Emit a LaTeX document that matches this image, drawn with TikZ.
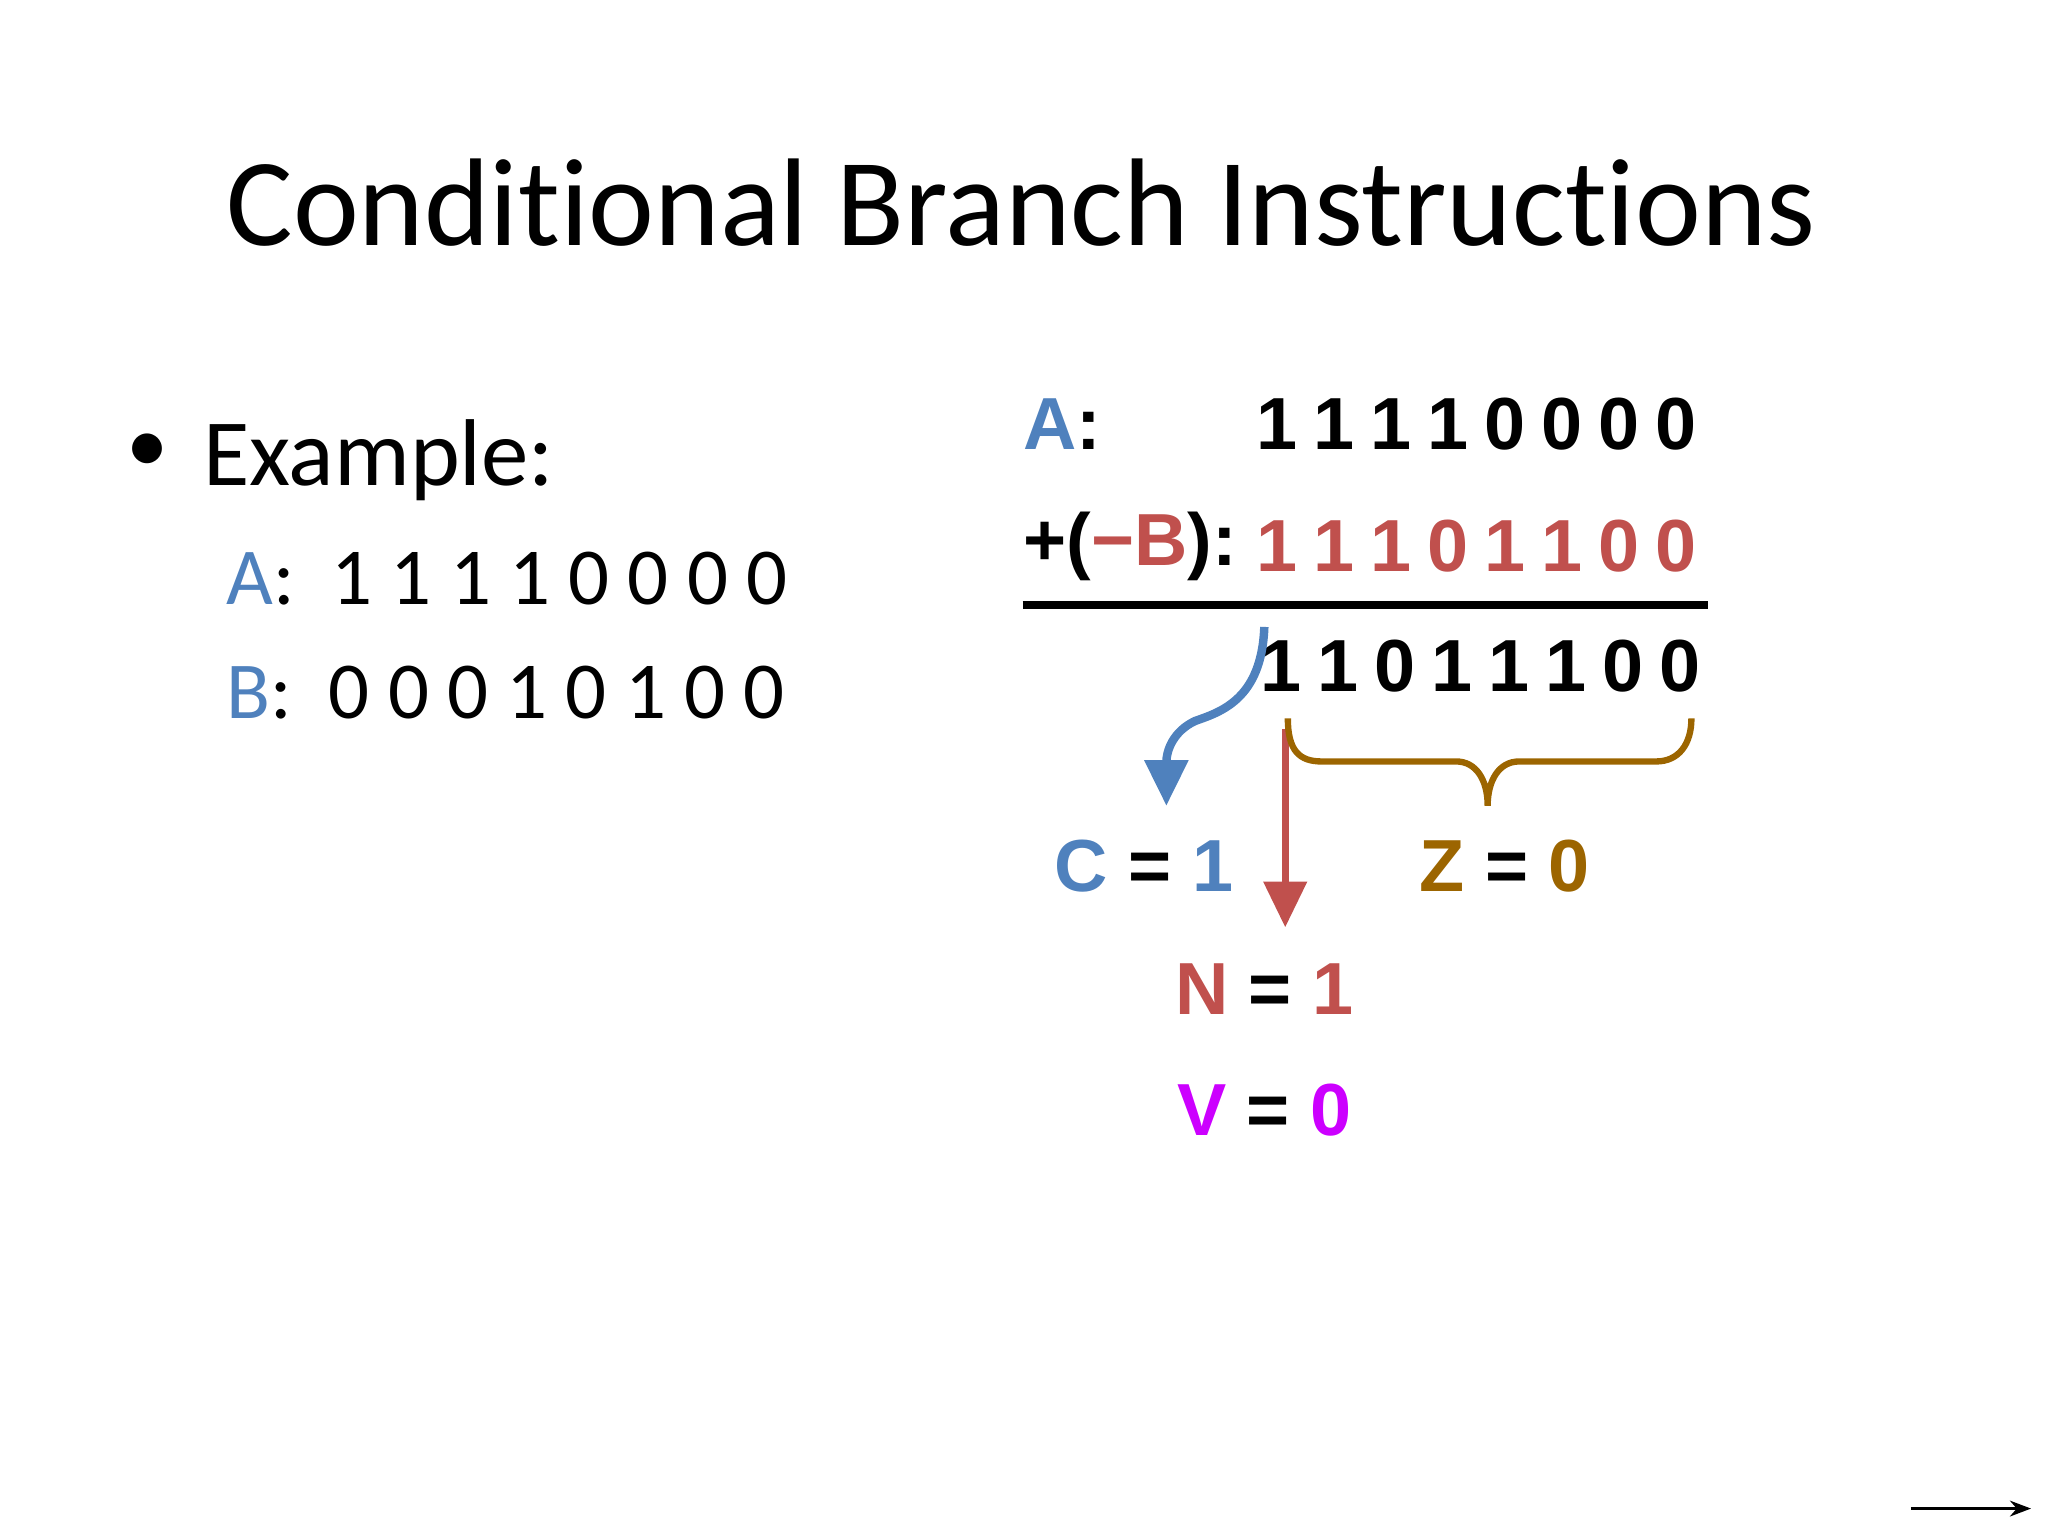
\documentclass[tikz,border=0pt]{standalone}
\usepackage{fontspec}
\setmainfont{Carlito}[Ligatures=NoCommon]
\newfontfamily\arialb{Liberation Sans}[Scale=1]
\usetikzlibrary{arrows.meta}
\definecolor{cblue}{HTML}{4F81BD}
\definecolor{cred}{HTML}{C0504D}
\definecolor{cbrown}{HTML}{9C6500}
\definecolor{cmag}{HTML}{CC00FF}
\begin{document}
\begin{tikzpicture}[x=0.01306cm,y=-0.01306cm,
  bt/.style={font=\arialb\bfseries\fontsize{21}{24}\selectfont,inner sep=0pt},
  lt/.style={font=\fontsize{23}{28}\selectfont,inner sep=0pt,anchor=west}]
\useasboundingbox (0,0) rectangle (1568,1176);
\node[font=\fontsize{35.5}{42}\selectfont] (title) at (782,155) {Conditional Branch Instructions};
\node[lt,font=\fontsize{24}{30}\selectfont] (bul) at (96,347) {•};
\node[lt,font=\fontsize{27}{32}\selectfont] (ex) at (155,352) {Example:};
\node[lt] (la) at (173,443) {\textcolor{cblue}{A}:\ \ 1 1 1 1 0 0 0 0};
\node[lt] (lb) at (173,530) {\textcolor{cblue}{B}:\ \ 0 0 0 1 0 1 0 0};
\node[bt,anchor=west] (ra) at (783,325) {\textcolor{cblue}{A}:};
\node[bt,anchor=west] (rb) at (783,418) {+(\textcolor{cred}{−B}):};
\foreach \d [count=\i] in {1,1,1,1,0,0,0,0}
  \node[bt] (a\i) at (978+43.6*\i-43.6,325) {\d};
\foreach \d [count=\i] in {1,1,1,0,1,1,0,0}
  \node[bt,text=cred] (b\i) at (978+43.6*\i-43.6,418) {\d};
\foreach \d [count=\i] in {1,1,0,1,1,1,0,0}
  \node[bt] (r\i) at (981+43.6*\i-43.6,510) {\d};
\coordinate (l1) at (783,463); \coordinate (l2) at (1308,463);
\draw[line width=2.2pt] (l1) -- (l2);
\node[bt] (cf) at (876,663) {\textcolor{cblue}{C} = \textcolor{cblue}{1}};
\node[bt] (zf) at (1152,663) {\textcolor{cbrown}{Z} = \textcolor{cbrown}{0}};
\node[bt] (nf) at (968,757) {\textcolor{cred}{N} = \textcolor{cred}{1}};
\node[bt] (vf) at (968,850) {\textcolor{cmag}{V} = \textcolor{cmag}{0}};
\coordinate (cs) at (968,480); \coordinate (ce) at (893,617);
\draw[cblue,line width=2.4pt,-{Triangle[length=13pt,width=12pt]}] (cs) .. controls (966,535) and (935,545) .. (915,552) .. controls (898,560) and (893,575) .. (ce);
\coordinate (ns) at (984,558); \coordinate (ne) at (984,710);
\draw[cred,line width=2pt,-{Triangle[length=13pt,width=12pt]}] (ns) -- (ne);
\coordinate (zs) at (986,550); \coordinate (zt) at (1139,617); \coordinate (ze) at (1295,550);
\draw[cbrown,line width=1.8pt] (zs) .. controls (986,575) and (995,583) .. (1012,583) -- (1115,583) .. controls (1130,583) and (1139,597) .. (zt) .. controls (1139,597) and (1148,583) .. (1163,583) -- (1268,583) .. controls (1285,583) and (1295,570) .. (ze);
\coordinate (p1) at (1463,1155); \coordinate (p2) at (1555,1155);
\draw[-{Stealth[length=6pt]},line width=0.8pt] (p1) -- (p2);
\end{tikzpicture}
\end{document}
